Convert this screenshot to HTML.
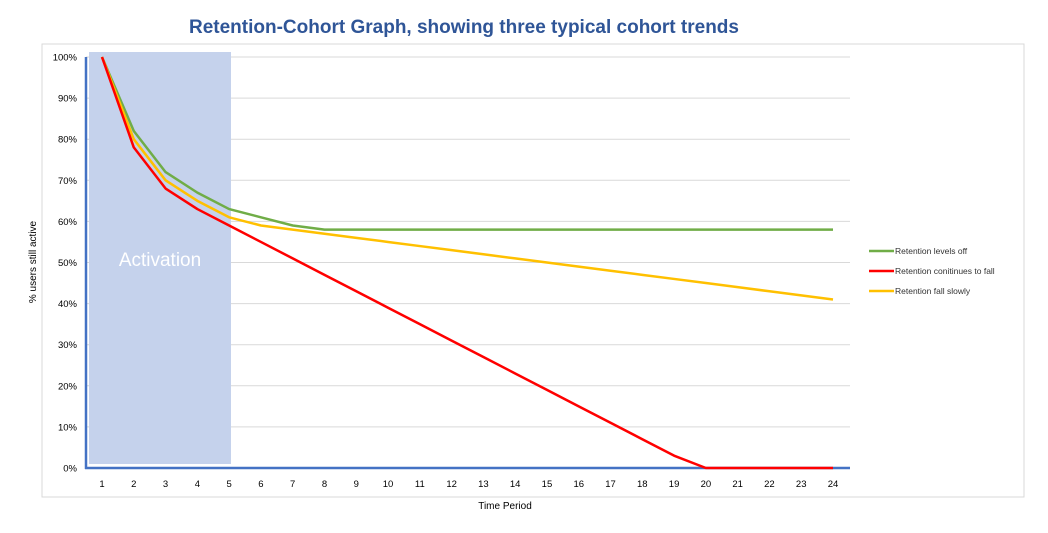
<!DOCTYPE html>
<html><head><meta charset="utf-8"><style>
body{margin:0;background:#fff;font-family:"Liberation Sans",sans-serif}
</style></head><body>
<svg id="c" width="1048" height="528" xmlns="http://www.w3.org/2000/svg">
<text x="464" y="33" text-anchor="middle" font-size="19" font-weight="bold" fill="#2f5597">Retention-Cohort Graph, showing three typical cohort trends</text>
<rect x="42" y="44" width="982" height="453" fill="none" stroke="#d9d9d9"/>
<g id="grid"></g>
<rect x="89" y="52" width="142" height="412" fill="#c5d2ec"/>
<text x="160" y="266" text-anchor="middle" font-size="19" fill="#fff">Activation</text>
<line x1="86" y1="57" x2="86" y2="469" stroke="#4472c4" stroke-width="2.5"/>
<line x1="85" y1="468" x2="850" y2="468" stroke="#4472c4" stroke-width="2.5"/>
<g id="series"></g>
<g id="ticks"></g>
<text x="36" y="262" transform="rotate(-90 36 262)" text-anchor="middle" font-size="10" fill="#000">% users still active</text>
<text x="505" y="509" text-anchor="middle" font-size="10" fill="#000">Time Period</text>
<g id="legend"></g>
</svg>
<script>
const periods=[1,2,3,4,5,6,7,8,9,10,11,12,13,14,15,16,17,18,19,20,21,22,23,24];
const yTicks=[0,10,20,30,40,50,60,70,80,90,100];
const levelsOff=[100,82,72,67,63,61,59,58,58,58,58,58,58,58,58,58,58,58,58,58,58,58,58,58];
const continuesFall=[100,78,68,63,59,55,51,47,43,39,35,31,27,23,19,15,11,7,3,0,0,0,0,0];
const fallSlowly=[100,80,70,65,61,59,58,57,56,55,54,53,52,51,50,49,48,47,46,45,44,43,42,41];
const seriesNames=["Retention levels off","Retention conitinues to fall","Retention fall slowly"];
const colors=["#70ad47","#ff0000","#ffc000"];
const NS="http://www.w3.org/2000/svg";
const xs=p=>102+(p-1)*(833-102)/23;
const ys=v=>468-v*(468-57)/100;
function mk(t,a,parent){const e=document.createElementNS(NS,t);for(const k in a)e.setAttribute(k,a[k]);document.getElementById(parent).appendChild(e);return e;}
yTicks.forEach(v=>{
  const l=mk('line',{x1:86,x2:850,y1:ys(v),y2:ys(v),stroke:'#d9d9d9','stroke-width':1},'grid');
  
  
  const t=mk('text',{x:77,y:ys(v)+3.5,'text-anchor':'end','font-size':9.5,fill:'#000'},'ticks');
  t.textContent=v+'%';
  
  
});
periods.forEach(p=>{
  const t=mk('text',{x:xs(p),y:487,'text-anchor':'middle','font-size':9.5,fill:'#000'},'ticks');
  t.textContent=p;
  
  
});
[levelsOff,fallSlowly,continuesFall].forEach((d,k)=>{
  const i=[0,2,1][k];
  const pts=d.map((v,j)=>xs(periods[j])+','+ys(v)).join(' ');
  const pl=mk('polyline',{points:pts,fill:'none',stroke:colors[i],'stroke-width':2.5,'stroke-linejoin':'round'},'series');
  
  
});
seriesNames.forEach((n,i)=>{
  const ly=251+i*20;
  const ll=mk('line',{x1:869,x2:894,y1:ly,y2:ly,stroke:colors[i],'stroke-width':2.5},'legend');
  
  
  const lt=mk('text',{x:895,y:ly+3,'font-size':8.5,fill:'#333'},'legend');
  lt.textContent=n;
  
  
});
</script>
</body></html>
